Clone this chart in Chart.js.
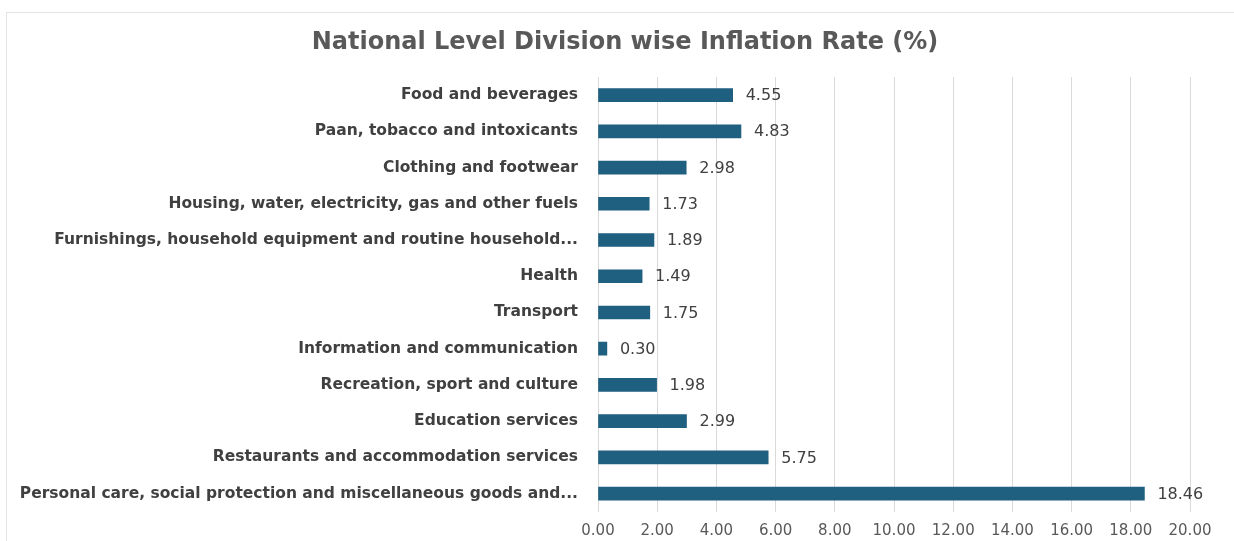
<!DOCTYPE html>
<html lang="en">
<head>
  <meta charset="UTF-8">
  <title>National Level Division wise Inflation Rate</title>
  <script src="https://cdn.jsdelivr.net/npm/chart.js"></script>
  <style>
    html, body { margin: 0; padding: 0; background: #fff; }
    #wrap { position: relative; width: 1234px; height: 541px; overflow: hidden; }
    #frame { position: absolute; left: 6px; top: 12px; width: 1240px; height: 540px; border: 1px solid #e3e3e3; }
    #chart { position: absolute; left: 0; top: 0; }
  </style>
</head>
<body>
  <div id="wrap">
    <div id="frame"></div>
    <canvas id="chart" width="1234" height="541"></canvas>
  </div>

  <script>
    // Divisions (top to bottom) and their inflation rates in %
    const divisions = [
      'Food and beverages',
      'Paan, tobacco and intoxicants',
      'Clothing and footwear',
      'Housing, water, electricity, gas and other fuels',
      'Furnishings, household equipment and routine household...',
      'Health',
      'Transport',
      'Information and communication',
      'Recreation, sport and culture',
      'Education services',
      'Restaurants and accommodation services',
      'Personal care, social protection and miscellaneous goods and...'
    ];
    const inflationRates = [4.55, 4.83, 2.98, 1.73, 1.89, 1.49, 1.75, 0.30, 1.98, 2.99, 5.75, 18.46];

    const axisMin = 0;
    const axisMax = 20;
    const axisStep = 2;

    const chartTitle = 'National Level Division wise Inflation Rate (%)';
    const fontFamily = '"DejaVu Sans", "Open Sans", sans-serif';

    // title sits a bit right of the canvas centre, so it is drawn by hand
    const titleText = {
      id: 'titleText',
      afterDraw(chart) {
        const ctx = chart.ctx;
        ctx.save();
        ctx.font = 'bold 24px ' + fontFamily;
        ctx.fillStyle = '#595959';
        ctx.textAlign = 'center';
        ctx.textBaseline = 'middle';
        ctx.fillText(chartTitle, 625, 43);
        ctx.restore();
      }
    };

    // writes the value next to the end of every bar
    const valueLabels = {
      id: 'valueLabels',
      afterDatasetsDraw(chart) {
        const ctx = chart.ctx;
        const meta = chart.getDatasetMeta(0);
        ctx.save();
        ctx.font = '16px ' + fontFamily;
        ctx.fillStyle = '#404040';
        ctx.textAlign = 'left';
        ctx.textBaseline = 'middle';
        meta.data.forEach((bar, i) => {
          const v = chart.data.datasets[0].data[i];
          ctx.fillText(v.toFixed(2), bar.x + 13, bar.y + 1);
        });
        ctx.restore();
      }
    };

    const ctx = document.getElementById('chart').getContext('2d');
    new Chart(ctx, {
      type: 'bar',
      data: {
        labels: divisions,
        datasets: [{
          data: inflationRates,
          backgroundColor: '#1F5F80',
          barThickness: 13
        }]
      },
      options: {
        indexAxis: 'y',
        responsive: false,
        animation: false,
        layout: { padding: { left: 0, right: 44, top: 77, bottom: 0 } },
        plugins: {
          legend: { display: false },
          tooltip: { enabled: false },
          title: { display: false }
        },
        scales: {
          x: {
            min: axisMin,
            max: axisMax,
            ticks: {
              stepSize: axisStep,
              color: '#595959',
              font: { family: fontFamily, size: 15 },
              padding: 10,
              callback: v => Number(v).toFixed(2)
            },
            grid: { color: '#d9d9d9', drawTicks: false },
            border: { display: false },
            afterFit(scale) { scale.height = 29; }
          },
          y: {
            ticks: {
              color: '#404040',
              font: { family: fontFamily, size: 15.5, weight: 'bold' },
              padding: 20,
              autoSkip: false
            },
            grid: { display: false, drawTicks: false },
            border: { display: false },
            afterFit(scale) { scale.width = 598; }
          }
        }
      },
      plugins: [valueLabels, titleText]
    });
  </script>
</body>
</html>
